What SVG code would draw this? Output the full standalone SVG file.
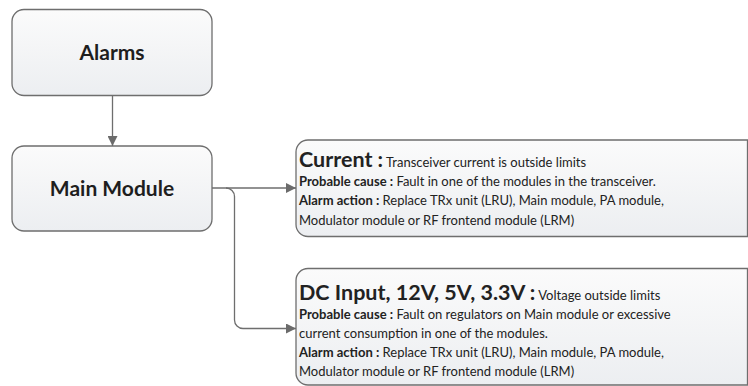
<svg xmlns="http://www.w3.org/2000/svg" width="748" height="386" viewBox="0 0 748 386">
  <defs>
    <linearGradient id="g" x1="0" y1="0" x2="0" y2="1">
      <stop offset="0" stop-color="#fbfbfb"/>
      <stop offset="1" stop-color="#eceef1"/>
    </linearGradient>
    <marker id="arr" viewBox="0 0 10 10" refX="10" refY="5" markerWidth="10" markerHeight="10" markerUnits="userSpaceOnUse" orient="auto">
      <path d="M0,0 L10,5 L0,10 Z" fill="#6b6b6b"/>
    </marker>
  </defs>
  <style>
    .box { fill: url(#g); stroke: #6e6e6e; stroke-width: 1.3; }
    .edge { fill: none; stroke: #6e6e6e; stroke-width: 1.3; }
    .title { font-family: "Lato", "Open Sans", sans-serif; font-weight: bold; font-size: 21px; fill: #1e1e1e; text-anchor: middle; }
    .t { font-family: "Lato", "Open Sans", sans-serif; font-size: 13px; fill: #222; }
    .b { font-weight: bold; }
    .big { font-weight: bold; font-size: 21.5px; }
  </style>
  <rect width="748" height="386" fill="#ffffff"/>
  <g id="alarms">
    <rect class="box" x="12" y="9.5" width="200" height="86" rx="12"/>
    <text class="title" x="112" y="60">Alarms</text>
  </g>
  <g id="main-module">
    <rect class="box" x="12" y="146" width="200" height="85" rx="12"/>
    <text class="title" x="112" y="196">Main Module</text>
  </g>
  <g id="current">
    <path class="box" d="M308,140 H747.5 V236.5 H308 A12,12 0 0 1 296,224.5 V152 A12,12 0 0 1 308,140 Z"/>
    <text class="t" x="299" y="167"><tspan class="big">Current :</tspan> Transceiver current is outside limits</text>
    <text class="t" x="299" y="186"><tspan class="b">Probable cause :</tspan> Fault in one of the modules in the transceiver.</text>
    <text class="t" x="299" y="205"><tspan class="b">Alarm action :</tspan> Replace TRx unit (LRU), Main module, PA module,</text>
    <text class="t" x="299" y="225">Modulator module or RF frontend module (LRM)</text>
  </g>
  <g id="dc-input">
    <path class="box" d="M308,268.5 H747.5 V385 H308 A12,12 0 0 1 296,373 V280.5 A12,12 0 0 1 308,268.5 Z"/>
    <text class="t" x="299" y="300"><tspan class="big">DC Input, 12V, 5V, 3.3V :</tspan> Voltage outside limits</text>
    <text class="t" x="299" y="319"><tspan class="b">Probable cause :</tspan> Fault on regulators on Main module or excessive</text>
    <text class="t" x="299" y="338">current consumption in one of the modules.</text>
    <text class="t" x="299" y="357"><tspan class="b">Alarm action :</tspan> Replace TRx unit (LRU), Main module, PA module,</text>
    <text class="t" x="299" y="376">Modulator module or RF frontend module (LRM)</text>
  </g>
  <g id="connectors">
    <path class="edge" d="M112.5,95.5 V146" marker-end="url(#arr)"/>
    <path class="edge" d="M212,188 H296" marker-end="url(#arr)"/>
    <path class="edge" d="M226,188 A8.5,8.5 0 0 1 234.5,196.5 V320 A8.5,8.5 0 0 0 243,328.5 H296" marker-end="url(#arr)"/>
  </g>
</svg>
